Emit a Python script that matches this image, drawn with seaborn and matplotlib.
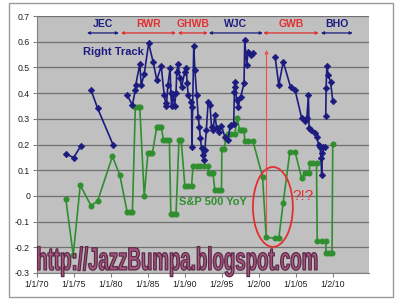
import numpy as np
import pandas as pd
import matplotlib
matplotlib.use("Agg")
import matplotlib.pyplot as plt
import matplotlib.patheffects as pe
from matplotlib.transforms import Affine2D
from matplotlib.patches import Ellipse, Rectangle
from matplotlib import font_manager
import seaborn as sns

# ---------------- data ----------------
right_track_year = [1973.9, 1974.95, 1975.9,
                    1977.3, 1978.2, 1980.3,
                    1982.2, 1982.9, 1983.3, 1983.35, 1983.9, 1984.1, 1984.5, 1985.1, 1985.7, 1986.2,
                    1986.8, 1987.2, 1987.4, 1987.5, 1987.7, 1988.0, 1988.1, 1988.2, 1988.4, 1988.6,
                    1988.8, 1988.9, 1989.1, 1989.3, 1989.55, 1990.0, 1990.2, 1990.3, 1990.45, 1990.8,
                    1990.9, 1990.95, 1991.2, 1991.35, 1991.6, 1991.8, 1991.95, 1992.1, 1992.25, 1992.45,
                    1992.55, 1992.7, 1992.9, 1993.15, 1993.4, 1993.6, 1993.8, 1994.05, 1994.3, 1994.6,
                    1994.95, 1995.4, 1995.85, 1996.1, 1996.3, 1996.6, 1996.7, 1996.72, 1996.75, 1997.0,
                    1997.2, 1997.55, 1998.0, 1998.1, 1998.35, 1998.55, 1998.9, 1999.2,
                    2002.2, 2002.7, 2003.3, 2004.3, 2004.9, 2005.8, 2006.2, 2006.5, 2006.7, 2006.8,
                    2007.1, 2007.6, 2007.8, 2008.1, 2008.3, 2008.4, 2008.5, 2008.6, 2008.7, 2009.0,
                    2009.05, 2009.1, 2009.2, 2009.4, 2009.7, 2010.0]
right_track_val = [0.163, 0.149, 0.193,
                   0.412, 0.341, 0.198,
                   0.391, 0.354, 0.412, 0.431, 0.513, 0.431, 0.474, 0.594, 0.522, 0.451,
                   0.505, 0.393, 0.361, 0.350, 0.431, 0.497, 0.400, 0.350, 0.395, 0.350,
                   0.400, 0.483, 0.512, 0.460, 0.425, 0.483, 0.496, 0.438, 0.393, 0.367,
                   0.347, 0.191, 0.583, 0.490, 0.393, 0.308, 0.269, 0.224, 0.185, 0.159,
                   0.140, 0.179, 0.256, 0.367, 0.354, 0.269, 0.256, 0.315, 0.263, 0.250,
                   0.272, 0.230, 0.217, 0.272, 0.276, 0.280, 0.405, 0.425, 0.445, 0.373,
                   0.347, 0.386, 0.438, 0.607, 0.509, 0.561, 0.548, 0.555,
                   0.542, 0.431, 0.522, 0.423, 0.412, 0.302, 0.293, 0.302, 0.393, 0.263,
                   0.256, 0.243, 0.230, 0.198, 0.191, 0.146, 0.081, 0.166, 0.191, 0.191,
                   0.311, 0.419, 0.505, 0.470, 0.444, 0.370]
right_track_seg = [0] * 3 + [1] * 3 + [2] * 68 + [3] * 20 + [4] * 6

sp500_year = [1973.9, 1974.9, 1975.85, 1977.3, 1978.2, 1980.2, 1981.2, 1982.2, 1982.55, 1982.9,
              1983.3, 1983.6, 1983.9, 1984.5, 1985.0, 1985.3, 1985.6, 1986.2, 1986.5, 1986.8,
              1987.1, 1987.5, 1987.9, 1988.1, 1988.45, 1988.8, 1989.2, 1989.5, 1990.0, 1990.45,
              1990.9, 1991.1, 1991.6, 1992.1, 1992.6, 1993.15, 1993.2, 1993.5, 1993.8, 1994.05,
              1994.5, 1994.95, 1995.0, 1995.3, 1995.55, 1995.85, 1996.3, 1996.75, 1997.1, 1997.4,
              1997.7, 1998.0, 1998.1, 1998.6, 1999.2, 2000.5, 2001.0, 2002.2, 2002.7, 2003.3,
              2004.2, 2004.9, 2005.8, 2006.2, 2006.8, 2006.9, 2007.35, 2007.8, 2007.9, 2008.5,
              2009.05, 2009.1, 2009.5, 2009.9, 2010.0]
sp500_val = [-0.013, -0.230, 0.042, -0.038, -0.020, 0.154, 0.081, -0.064, -0.064, -0.064,
             0.345, 0.345, 0.345, 0.000, 0.166, 0.166, 0.166, 0.269, 0.269, 0.269,
             0.217, 0.217, 0.217, -0.072, -0.072, -0.072, 0.217, 0.217, 0.038, 0.038,
             0.038, 0.116, 0.116, 0.116, 0.116, 0.116, 0.088, 0.088, 0.088, 0.023,
             0.023, 0.023, 0.182, 0.182, 0.220, 0.241, 0.241, 0.241, 0.302, 0.256,
             0.256, 0.256, 0.214, 0.214, 0.214, 0.075, -0.161, -0.165, -0.165, -0.026,
             0.172, 0.172, 0.068, 0.088, 0.088, 0.129, 0.129, 0.129, -0.175, -0.175,
             -0.175, -0.223, -0.223, -0.223, 0.202]

term_names = ["JEC", "RWR", "GHWB", "WJC", "GWB", "BHO"]
term_start = [1976.76, 1981.35, 1989.05, 1993.24, 2000.6, 2008.4]
term_end = [1981.08, 1988.8, 1993.1, 2000.54, 2008.1, 2012.7]
term_party = ["D", "R", "R", "D", "R", "D"]

x_tick_years = [1970, 1975, 1980, 1985, 1990, 1995, 2000, 2005, 2010]
x_tick_labels = ["1/1/70", "1/1/75", "1/1/80", "1/1/85", "1/1/90", "1/2/95", "1/2/00", "1/1/05", "1/2/10"]
y_ticks = [0.7, 0.6, 0.5, 0.4, 0.3, 0.2, 0.1, 0.0, -0.1, -0.2, -0.3]
y_tick_labels = ["0.7", "0.6", "0.5", "0.4", "0.3", "0.2", "0.1", "0", "-0.1", "-0.2", "-0.3"]

# ---------------- style ----------------
plt.rcParams['font.family'] = ['Liberation Sans', 'DejaVu Sans']
BLUE = "#1c1c80"
GREEN = "#2f8f2f"
RED = "#e23030"

fig = plt.figure(figsize=(4, 3), dpi=100)
fig.patch.set_facecolor("white")
ax = fig.add_axes([37 / 400, 27 / 300, 332 / 400, 257 / 300])
ax.set_facecolor("#c0c0c0")

rt = pd.DataFrame({"year": right_track_year, "val": right_track_val, "seg": right_track_seg})
sp = pd.DataFrame({"year": sp500_year, "val": sp500_val})

sns.lineplot(data=sp, x="year", y="val", estimator=None, sort=False, ax=ax,
             color=GREEN, lw=1.2, marker="o", markersize=3.8, markeredgecolor=GREEN,
             markeredgewidth=0.5, legend=False, zorder=3)
sns.lineplot(data=rt, x="year", y="val", units="seg", estimator=None, sort=False, ax=ax,
             color=BLUE, lw=1.2, marker="D", markersize=3.3, markeredgecolor=BLUE,
             markeredgewidth=0.5, legend=False, zorder=4)

ax.set_xlim(1970, 2014.9)
ax.set_ylim(-0.3, 0.7)
ax.set_xlabel("")
ax.set_ylabel("")
ax.set_xticks(x_tick_years)
ax.set_xticklabels(x_tick_labels)
ax.set_yticks(y_ticks)
ax.set_yticklabels(y_tick_labels)
ax.yaxis.grid(True, color="#707070", lw=0.9)
ax.xaxis.grid(False)
ax.set_axisbelow(True)
for s in ["top", "right"]:
    ax.spines[s].set_visible(False)
for s in ["left", "bottom"]:
    ax.spines[s].set_color("#808080")
    ax.spines[s].set_linewidth(0.8)
ax.tick_params(axis="both", direction="out", length=3, width=0.8, color="#808080",
               labelsize=6.3, pad=2, labelcolor="#202020")

# presidential terms
for name, a, b, p in zip(term_names, term_start, term_end, term_party):
    c = BLUE if p == "D" else RED
    ax.annotate("", xy=(a, 0.634), xytext=(b, 0.634),
                arrowprops=dict(arrowstyle="<|-|>", color=c, lw=0.9,
                                mutation_scale=4, shrinkA=0, shrinkB=0))
    ax.text((a + b) / 2, 0.668, name, color=c, fontsize=7.5, fontweight="bold",
            ha="center", va="center")

ax.text(1976.2, 0.56, "Right Track", color=BLUE, fontsize=8, fontweight="bold",
        ha="left", va="center")
ax.text(1989.2, -0.023, "S&P 500 YoY", color=GREEN, fontsize=8, fontweight="bold",
        ha="left", va="center")
ax.text(2006.0, 0.0, "?!?", color=RED, fontsize=11, ha="center", va="center")

# red annotations
ax.annotate("", xy=(2001.04, 0.568), xytext=(2001.04, -0.164),
            arrowprops=dict(arrowstyle="-|>", color="#f05050", lw=0.8,
                            mutation_scale=5, shrinkA=0, shrinkB=0), zorder=2)
ax.add_patch(Ellipse((2001.9, -0.043), 5.4, 0.311, fill=False, ec=RED, lw=1.3, zorder=5))

# watermark
names = {f.name for f in font_manager.fontManager.ttflist}
wm_font = "Liberation Sans Narrow" if "Liberation Sans Narrow" in names else "Liberation Sans"
wm = ax.text(1969.9, -0.288, "http://JazzBumpa.blogspot.com", fontsize=10,
             fontweight="bold", family=[wm_font, "DejaVu Sans"], color="#a5577f",
             ha="left", va="baseline", zorder=6, clip_on=False)
fig.canvas.draw()
r = fig.canvas.get_renderer()
w = wm.get_window_extent(r).width
fs = 10 * 282 / w
wm.set_fontsize(fs)
em_px = fs * 100 / 72
sy = 23.5 / (0.73 * em_px)


class StretchStroke(pe.Stroke):
    def __init__(self, artist, sy, **kw):
        super().__init__(**kw)
        self._artist = artist
        self._sy = sy

    def _offset_transform(self, renderer):
        x, y = self._artist.get_transform().transform(self._artist.get_position())
        return Affine2D().translate(0, -y).scale(1, self._sy).translate(0, y)


wm.set_path_effects([StretchStroke(wm, sy, linewidth=0.9, foreground="#5e2a4a")])

# chart frame
fig.patches.append(Rectangle((9 / 400, 3 / 300), 384 / 400, 294 / 300, transform=fig.transFigure,
                             fill=False, ec="#9a9a9a", lw=1))

fig.savefig("out.png", dpi=100)
